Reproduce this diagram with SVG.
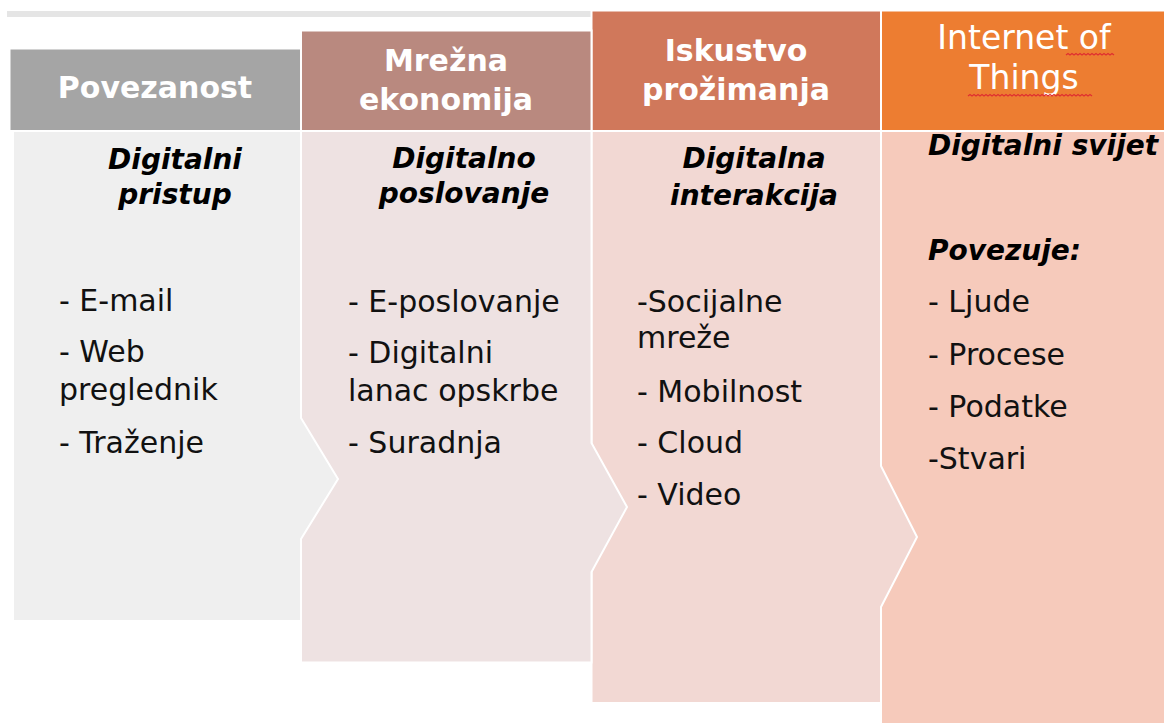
<svg xmlns="http://www.w3.org/2000/svg" width="1164" height="723" viewBox="0 0 1164 723">
<style>
.h{font-family:"DejaVu Sans",sans-serif;font-weight:bold;font-size:30px;fill:#ffffff;text-anchor:middle}
.hr{font-family:"DejaVu Sans",sans-serif;font-size:33px;fill:#ffffff;text-anchor:middle}
.t{font-family:"DejaVu Sans",sans-serif;font-weight:bold;font-style:italic;font-size:28px;fill:#000000;text-anchor:middle}
.ts{font-family:"DejaVu Sans",sans-serif;font-weight:bold;font-style:italic;font-size:28px;fill:#000000}
.b{font-family:"DejaVu Sans",sans-serif;font-size:30px;fill:#111111}
.sh{stroke:#ffffff;stroke-width:2}
.sq{fill:none;stroke:#e03030;stroke-width:1.2}
</style>
<rect width="1164" height="723" fill="#ffffff"/>
<rect x="7" y="11" width="584" height="6" fill="#e5e5e5"/>
<g id="col4">
<polygon class="sh" points="881,131 1166,131 1166,725 881,725" fill="#f6cabb"/>
<rect class="sh" x="881" y="10.5" width="285" height="120.5" fill="#ed7d31"/>
<text class="hr" x="1024" y="49">Internet of</text>
<text class="hr" x="1024" y="89">Things</text>
<path class="sq" d="M1066,55 l2,-1.5 l2,1.5 l2,-1.5 l2,1.5 l2,-1.5 l2,1.5 l2,-1.5 l2,1.5 l2,-1.5 l2,1.5 l2,-1.5 l2,1.5 l2,-1.5 l2,1.5 l2,-1.5 l2,1.5 l2,-1.5 l2,1.5 l2,-1.5 l2,1.5 l2,-1.5 l2,1.5 l2,-1.5 l2,1.5"/>
<path class="sq" d="M968,96 l2,-1.5 l2,1.5 l2,-1.5 l2,1.5 l2,-1.5 l2,1.5 l2,-1.5 l2,1.5 l2,-1.5 l2,1.5 l2,-1.5 l2,1.5 l2,-1.5 l2,1.5 l2,-1.5 l2,1.5 l2,-1.5 l2,1.5 l2,-1.5 l2,1.5 l2,-1.5 l2,1.5 l2,-1.5 l2,1.5 l2,-1.5 l2,1.5 l2,-1.5 l2,1.5 l2,-1.5 l2,1.5 l2,-1.5 l2,1.5 l2,-1.5 l2,1.5 l2,-1.5 l2,1.5 l2,-1.5 l2,1.5 l2,-1.5 l2,1.5 l2,-1.5 l2,1.5 l2,-1.5 l2,1.5 l2,-1.5 l2,1.5 l2,-1.5 l2,1.5 l2,-1.5 l2,1.5 l2,-1.5 l2,1.5 l2,-1.5 l2,1.5 l2,-1.5 l2,1.5 l2,-1.5 l2,1.5 l2,-1.5 l2,1.5 l2,-1.5 l2,1.5"/>
<text class="ts" x="928" y="155">Digitalni svijet</text>
<text class="ts" x="928" y="260">Povezuje:</text>
<text class="b" x="928" y="312">- Ljude</text>
<text class="b" x="928" y="365">- Procese</text>
<text class="b" x="928" y="417">- Podatke</text>
<text class="b" x="928" y="469">-Stvari</text>
</g>
<g id="col3">
<polygon class="sh" points="591.5,131 881,131 881,466 917,537 881,607 881,703 591.5,703" fill="#f2d8d3"/>
<rect class="sh" x="591.5" y="10.5" width="289.5" height="120.5" fill="#d0785b"/>
<text class="h" x="736" y="61">Iskustvo</text>
<text class="h" x="736" y="100">prožimanja</text>
<text class="t" x="754" y="168">Digitalna</text>
<text class="t" x="754" y="205">interakcija</text>
<text class="b" x="637" y="312">-Socijalne</text>
<text class="b" x="637" y="348">mreže</text>
<text class="b" x="637" y="402">- Mobilnost</text>
<text class="b" x="637" y="453">- Cloud</text>
<text class="b" x="637" y="505">- Video</text>
</g>
<g id="col2">
<polygon class="sh" points="301,131 591.5,131 591.5,443 627,507 591.5,572 591.5,662.5 301,662.5" fill="#eee2e2"/>
<rect class="sh" x="301" y="30.5" width="290.5" height="100.5" fill="#b9897f"/>
<text class="h" x="446" y="71">Mrežna</text>
<text class="h" x="446" y="110">ekonomija</text>
<text class="t" x="464" y="168">Digitalno</text>
<text class="t" x="464" y="203">poslovanje</text>
<text class="b" x="348" y="312">- E-poslovanje</text>
<text class="b" x="348" y="363">- Digitalni</text>
<text class="b" x="348" y="401">lanac opskrbe</text>
<text class="b" x="348" y="453">- Suradnja</text>
</g>
<g id="col1">
<polygon class="sh" points="13,131 301,131 301,418 338,479 301,539 301,621 13,621" fill="#efefef"/>
<rect class="sh" x="9.5" y="48.5" width="291.5" height="82.5" fill="#a5a5a5"/>
<text class="h" x="155" y="98">Povezanost</text>
<text class="t" x="175" y="169">Digitalni</text>
<text class="t" x="175" y="204">pristup</text>
<text class="b" x="59" y="311">- E-mail</text>
<text class="b" x="59" y="362">- Web</text>
<text class="b" x="59" y="400">preglednik</text>
<text class="b" x="59" y="453">- Traženje</text>
</g>
<g id="connectors"/>
</svg>
